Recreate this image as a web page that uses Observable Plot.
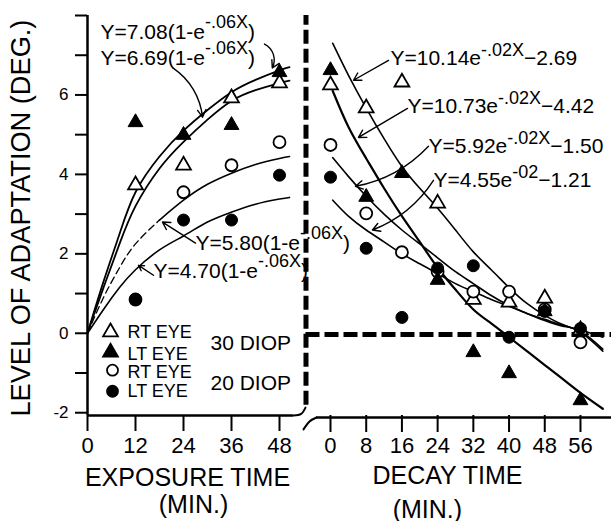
<!DOCTYPE html>
<html><head><meta charset="utf-8">
<script src="https://cdn.jsdelivr.net/npm/d3@7"></script>
<script src="https://cdn.jsdelivr.net/npm/@observablehq/plot@0.6"></script>
<style>
html,body{margin:0;padding:0;background:#fff;}
#chart{position:relative;width:611px;height:521px;overflow:hidden;background:#fff;}
#chart svg{position:absolute;top:0;overflow:visible;}
</style></head><body><div id="chart"></div>
<script>
// ---------- DATA ----------
// Exposure phase (left panel)
const exposureTime = [12, 24, 36, 48];
const expRt30 = [3.73, 4.23, 5.92, 6.30];
const expLt30 = [5.31, 4.99, 5.24, 6.57];
const expRt20 = [0.85, 3.55, 4.23, 4.81];
const expLt20 = [0.85, 2.85, 2.85, 3.98];

// Fitted curves, left panel
const fitExpX   = [0, 4, 8, 12, 18, 24, 30, 36, 42, 48, 50.5];
const fitExp708 = [0, 1.3, 2.5, 3.55, 4.45, 5.1, 5.62, 6.07, 6.38, 6.62, 6.7];
const fitExp669 = [0, 1.15, 2.25, 3.2, 4.15, 4.82, 5.38, 5.85, 6.12, 6.3, 6.36];
const fitExp580 = [0, 0.9, 1.65, 2.25, 2.85, 3.35, 3.75, 4.03, 4.25, 4.4, 4.45];
const fitExp470 = [0, 0.6, 1.15, 1.6, 2.1, 2.45, 2.8, 3.05, 3.25, 3.38, 3.42];

// Decay phase (right panel)
const decayTime = [0, 8, 16, 24, 32, 40, 48, 56];
const decRt30 = [6.25, 5.67, 6.32, 3.27, 0.85, 0.78, 0.88, 0.08];
const decLt30 = [6.62, 3.43, 4.03, 1.34, -0.48, -1.01, 0.55, -1.69];
const decRt20 = [4.74, 3.02, 2.04, 1.55, 1.05, 1.05, 0.6, -0.23];
const decLt20 = [3.93, 2.14, 0.40, 1.64, 1.70, -0.10, 0.55, 0.12];

// Fitted curves, right panel
const fitDecX    = [0.5, 4, 8, 12, 16, 20, 24, 28, 32, 36, 40, 44, 48, 52, 56, 61];
const fitDec1014 = [7.3, 6.5, 5.67, 4.9, 4.2, 3.65, 3.15, 2.6, 2.05, 1.6, 1.15, 0.75, 0.45, 0.22, 0.03, -0.45];
const fitDec1073 = [6.1, 5.2, 4.4, 3.65, 2.95, 2.3, 1.65, 1.1, 0.6, 0.25, -0.1, -0.45, -0.8, -1.15, -1.5, -1.9];
const fitDec592  = [4.42, 3.95, 3.45, 3.0, 2.6, 2.25, 1.9, 1.55, 1.25, 0.95, 0.7, 0.5, 0.32, 0.18, 0.05, -0.4];
const fitDec455  = [3.35, 2.95, 2.6, 2.3, 2.0, 1.75, 1.5, 1.25, 1.05, 0.85, 0.68, 0.5, 0.35, 0.2, 0.08, -0.1];

// Tick labels
const yTicks = [-2, -1, 0, 1, 2, 3, 4, 5, 6, 7, 8];
const yLabels = [-2, 0, 2, 4, 6];
const expTicks = [0, 12, 24, 36, 48];
const decTicks = [0, 8, 16, 24, 32, 40, 48, 56];

// Texts
const yTitle = "LEVEL OF ADAPTATION (DEG.)";
const expTitle = ["EXPOSURE TIME", "(MIN.)"];
const decTitle = ["DECAY TIME", "(MIN.)"];
const legendEyes = ["RT EYE", "LT EYE", "RT EYE", "LT EYE"];
const legendDiop = ["30 DIOP", "20 DIOP"];
const leftEqText = ["Y=7.08(1-e^-.06X^)", "Y=6.69(1-e^-.06X^)", "Y=5.80(1-e^-.06X^)", "Y=4.70(1-e^-.06X^)"];
const rightEqText = ["Y=10.14e^-.02X^−2.69", "Y=10.73e^-.02X^−4.42", "Y=5.92e^-.02X^−1.50", "Y=4.55e^-02^−1.21"];

// Annotation anchors (data units)
const leftEqPos = [[3.25, 7.40], [3.25, 6.75], [27, 2.09], [16.5, 1.38]];
const rightEqPos = [[13.44, 6.75], [17.25, 5.54], [21.95, 4.53], [23.07, 3.68]];
const leftArrowsCurved = [[44.25, 7.28, 46.2, 6.68], [21.5, 6.67, 28.75, 5.44]];
const leftArrowsStraight = [[27, 2.27, 18.75, 2.8], [16.5, 1.46, 12.75, 1.71]];
const rightArrowsStraight = [[13, 6.87, 5.15, 6.37], [17.25, 5.66, 6.27, 4.93]];
const rightArrowsCurved = [[21.95, 4.71, 5.6, 3.7], [23.07, 3.85, 9.4, 2.6]];
const legendMarkY = [0.03, -0.48, -0.93, -1.46];
const legendTextY = [-0.13, -0.68, -1.13, -1.61];
const legendDiopY = [-0.43, -1.43];
const yTitlePos = [-16.6, 2.9];

// ---------- LAYOUT ----------
const FONT = "'Liberation Sans', Arial, sans-serif";
const yDomain = [-2.07, 8];
const H = 521, MT = 15, MB = 106;

const pts = (xs, ys) => xs.map((x, i) => ({x, y: ys[i]}));
const arr = a => a.map(([x1, y1, x2, y2]) => ({x1, y1, x2, y2}));
const eqs = (t, p) => t.map((s, i) => ({t: s, x: p[i][0], y: p[i][1]}));

const openStyle = {fill: "white", stroke: "black", strokeWidth: 1.8};
const fillStyle = {fill: "black", stroke: "black", strokeWidth: 1};

const left = Plot.plot({
  width: 305, height: H, marginLeft: 87, marginRight: 0, marginTop: MT, marginBottom: MB,
  style: {fontFamily: FONT, background: "transparent", color: "black", overflow: "visible"},
  x: {domain: [0, 54.5]},
  y: {domain: yDomain},
  marks: [
    Plot.axisY({ticks: yTicks, tickFormat: d => yLabels.includes(d) ? String(d) : "", tickSize: 12, tickPadding: 7, fontSize: 17, strokeWidth: 2, label: null}),
    Plot.axisX({ticks: expTicks, tickFormat: d => String(d), tickSize: 16, tickPadding: 6, fontSize: 22, strokeWidth: 2, label: null}),
    Plot.ruleX([{x: 0, y1: yDomain[0], y2: yDomain[1]}], {x: "x", y1: "y1", y2: "y2", strokeWidth: 2.5}),
    Plot.ruleY([{y: yDomain[0], x1: 0, x2: 51.5}], {y: "y", x1: "x1", x2: "x2", strokeWidth: 2.5}),
    Plot.line([{x: 51.5, y: -2.07}, {x: 53.4, y: -2.03}, {x: 54.5, y: -1.87}], {x: "x", y: "y", curve: "natural", strokeWidth: 2}),
    Plot.line(pts(fitExpX, fitExp708), {x: "x", y: "y", curve: "natural", strokeWidth: 1.8}),
    Plot.line(pts(fitExpX, fitExp669), {x: "x", y: "y", curve: "natural", strokeWidth: 1.8}),
    Plot.line(pts(fitExpX, fitExp580).filter(d => d.x <= 18), {x: "x", y: "y", curve: "natural", strokeWidth: 1.3, strokeDasharray: "7,4"}),
    Plot.line(pts(fitExpX, fitExp580).filter(d => d.x >= 18), {x: "x", y: "y", curve: "natural", strokeWidth: 1.6}),
    Plot.line(pts(fitExpX, fitExp470), {x: "x", y: "y", curve: "natural", strokeWidth: 1.6}),
    Plot.dot(pts(exposureTime, expRt30), {x: "x", y: "y", symbol: "triangle", r: 5.5, ...openStyle}),
    Plot.dot(pts(exposureTime, expLt30), {x: "x", y: "y", symbol: "triangle", r: 5.5, ...fillStyle}),
    Plot.dot(pts(exposureTime, expRt20), {x: "x", y: "y", symbol: "circle", r: 6, ...openStyle}),
    Plot.dot(pts(exposureTime, expLt20), {x: "x", y: "y", symbol: "circle", r: 6, ...fillStyle}),
    Plot.arrow(arr(leftArrowsCurved).slice(0, 1), {x1: "x1", y1: "y1", x2: "x2", y2: "y2", bend: 45, headLength: 9, strokeWidth: 1.4}),
    Plot.arrow(arr(leftArrowsCurved).slice(1), {x1: "x1", y1: "y1", x2: "x2", y2: "y2", bend: 25, headLength: 9, strokeWidth: 1.4}),
    Plot.arrow(arr(leftArrowsStraight), {x1: "x1", y1: "y1", x2: "x2", y2: "y2", headLength: 9, strokeWidth: 1.4}),
    Plot.text(eqs(leftEqText, leftEqPos), {x: "x", y: "y", text: "t", textAnchor: "start", lineAnchor: "bottom", fontSize: 21, fill: "black"}),
    // legend
    Plot.dot([0, 1, 2, 3].map(i => ({i, y: legendMarkY[i], x: i < 2 ? 5.75 : 6.25})), {x: "x", y: "y",
      symbol: d => d.i < 2 ? "triangle" : "circle", r: 5.5, fill: d => d.i % 2 ? "black" : "white", stroke: "black", strokeWidth: 1.8}),
    Plot.text(legendEyes.map((t, i) => ({t, y: legendTextY[i]})), {x: 10, y: "y", text: "t", textAnchor: "start", lineAnchor: "bottom", fontSize: 18}),
    Plot.text(legendDiop.map((t, i) => ({t, y: legendDiopY[i]})), {x: 30.75, y: "y", text: "t", textAnchor: "start", lineAnchor: "bottom", fontSize: 21}),
    // titles
    Plot.text([{t: yTitle, x: yTitlePos[0], y: yTitlePos[1]}], {x: "x", y: "y", text: "t", rotate: -90, textAnchor: "middle", lineAnchor: "middle", fontSize: 27}),
    Plot.text([{t: expTitle[0], x: 25}], {x: "x", text: "t", frameAnchor: "bottom", lineAnchor: "bottom", dy: 70, fontSize: 25}),
    Plot.text([{t: expTitle[1], x: 26.5}], {x: "x", text: "t", frameAnchor: "bottom", lineAnchor: "bottom", dy: 97, fontSize: 25})
  ]
});

const right = Plot.plot({
  width: 311, height: H, marginLeft: 0, marginRight: 0, marginTop: MT, marginBottom: MB,
  style: {fontFamily: FONT, background: "transparent", color: "black", overflow: "visible"},
  x: {domain: [-6.72, 62.95]},
  y: {domain: yDomain, axis: null},
  marks: [
    Plot.axisX({ticks: decTicks, tickFormat: d => String(d), tickSize: 17, tickPadding: 5, fontSize: 22, strokeWidth: 2, label: null}),
    Plot.ruleY([{y: -2.12, x1: -3.14, x2: 62.95}], {y: "y", x1: "x1", x2: "x2", strokeWidth: 2.5}),
    Plot.line([{x: -6.05, y: -2.42}, {x: -4.7, y: -2.22}, {x: -3.14, y: -2.12}], {x: "x", y: "y", curve: "natural", strokeWidth: 2}),
    Plot.ruleX([{x: -5.49, y1: -1.81, y2: 8}], {x: "x", y1: "y1", y2: "y2", strokeWidth: 5, strokeDasharray: "14,5"}),
    Plot.ruleY([{y: -0.03, x1: -5.49, x2: 62.95}], {y: "y", x1: "x1", x2: "x2", strokeWidth: 5, strokeDasharray: "14,5"}),
    Plot.line(pts(fitDecX, fitDec1014), {x: "x", y: "y", curve: "natural", strokeWidth: 1.6}),
    Plot.line(pts(fitDecX, fitDec1073), {x: "x", y: "y", curve: "natural", strokeWidth: 2.2}),
    Plot.line(pts(fitDecX, fitDec592), {x: "x", y: "y", curve: "natural", strokeWidth: 1.6}),
    Plot.line(pts(fitDecX, fitDec455), {x: "x", y: "y", curve: "natural", strokeWidth: 1.6}),
    Plot.dot(pts(decayTime, decRt30), {x: "x", y: "y", symbol: "triangle", r: 5.5, ...openStyle}),
    Plot.dot(pts(decayTime, decRt20), {x: "x", y: "y", symbol: "circle", r: 6, ...openStyle}),
    Plot.dot(pts(decayTime, decLt30), {x: "x", y: "y", symbol: "triangle", r: 5.5, ...fillStyle}),
    Plot.dot(pts(decayTime, decLt20), {x: "x", y: "y", symbol: "circle", r: 6, ...fillStyle}),
    Plot.arrow(arr(rightArrowsStraight), {x1: "x1", y1: "y1", x2: "x2", y2: "y2", headLength: 9, strokeWidth: 1.4}),
    Plot.arrow(arr(rightArrowsCurved), {x1: "x1", y1: "y1", x2: "x2", y2: "y2", bend: 18, headLength: 9, strokeWidth: 1.4}),
    Plot.text(eqs(rightEqText, rightEqPos), {x: "x", y: "y", text: "t", textAnchor: "start", lineAnchor: "bottom", fontSize: 21, fill: "black"}),
    Plot.text([{t: decTitle[0], x: 26.2}], {x: "x", text: "t", frameAnchor: "bottom", lineAnchor: "bottom", dy: 68, fontSize: 25}),
    Plot.text([{t: decTitle[1], x: 21.7}], {x: "x", text: "t", frameAnchor: "bottom", lineAnchor: "bottom", dy: 102, fontSize: 25})
  ]
});

function superscripts(svg, supSize, raise) {
  d3.select(svg).selectAll("text").each(function() {
    const t = this.textContent;
    if (!t.includes("^")) return;
    const parts = t.split("^");
    const sel = d3.select(this);
    sel.text(null);
    parts.forEach((p, i) => {
      const ts = sel.append("tspan").text(p);
      if (i % 2 === 1) ts.attr("dy", -raise).attr("font-size", supSize);
      else if (i > 0) ts.attr("dy", raise);
    });
  });
}
superscripts(left, 18, 11);
superscripts(right, 18, 9);
d3.select(left).selectAll("text").filter(function() { return this.textContent === yTitle; })
  .attr("textLength", 397).attr("lengthAdjust", "spacingAndGlyphs");

left.style.left = "0px";
right.style.left = "300px";
const chart = document.getElementById("chart");
chart.appendChild(left);
chart.appendChild(right);
</script></body></html>
